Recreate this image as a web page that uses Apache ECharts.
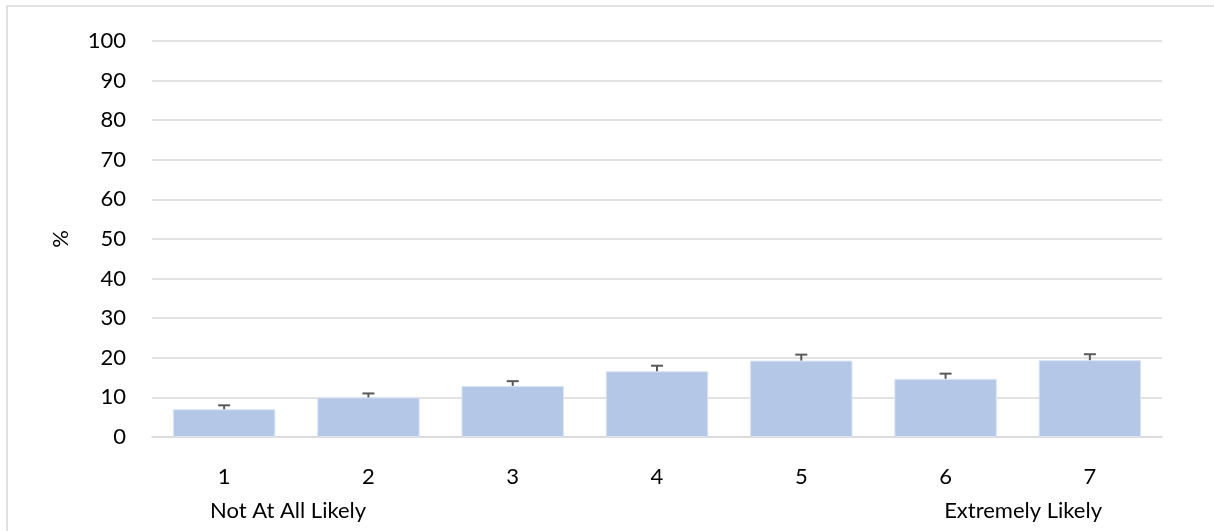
<!DOCTYPE html>
<html><head><meta charset="utf-8">
<script src="https://cdn.jsdelivr.net/npm/echarts@6/dist/echarts.min.js"></script>
<style>html,body{margin:0;padding:0;background:#fff}#c{width:1214px;height:531px}</style>
</head><body><div id="c"></div>
<script>
const categories = ['1','2','3','4','5','6','7'];
const values = [7.0, 10.0, 12.9, 16.6, 19.3, 14.7, 19.4];
const errors = [1.0, 1.0, 1.2, 1.4, 1.5, 1.3, 1.5];
const yTicks = [0,10,20,30,40,50,60,70,80,90,100];
const scaleLabels = ['Not At All Likely','Extremely Likely'];

const font = 'Lato';
const fs = 22;
const chart = echarts.init(document.getElementById('c'));
chart.setOption({
  animation:false,
  grid:{left:152,right:52,top:41,bottom:94},
  xAxis:{type:'category',data:categories,
    axisLine:{lineStyle:{color:'#d9d9d9',width:1.5}},axisTick:{show:false},
    axisLabel:{color:'#000',fontFamily:font,fontSize:fs,margin:29}},
  yAxis:{type:'value',min:yTicks[0],max:yTicks[yTicks.length-1],interval:10,
    name:'%',nameLocation:'middle',nameGap:80,nameRotate:90,
    nameTextStyle:{color:'#000',fontFamily:font,fontSize:fs},
    axisLabel:{color:'#000',fontFamily:font,fontSize:fs,margin:26},
    splitLine:{lineStyle:{color:'#d9d9d9',width:1.5}},axisLine:{show:false},axisTick:{show:false}},
  series:[
    {type:'bar',data:values,barCategoryGap:'29%',
     itemStyle:{color:'#b4c7e7',borderColor:'#dbe4f4',borderWidth:1}},
    {type:'custom',data:values.map((v,i)=>[i,v,v+errors[i]]),z:5,
     renderItem:function(params,api){
       const p0=api.coord([api.value(0),api.value(1)]);
       const p1=api.coord([api.value(0),api.value(2)]);
       const s={stroke:'#595959',lineWidth:2};
       return {type:'group',children:[
         {type:'line',shape:{x1:p0[0],y1:p0[1],x2:p1[0],y2:p1[1]},style:s},
         {type:'line',shape:{x1:p1[0]-6,y1:p1[1],x2:p1[0]+6,y2:p1[1]},style:s}
       ]};
     }}
  ],
  graphic:[
    {type:'rect',shape:{x:7,y:6,width:1400,height:700},style:{fill:'none',stroke:'#d9d9d9',lineWidth:1.5},silent:true},
    {type:'text',left:210,top:500,style:{text:scaleLabels[0],fill:'#000',font:fs+'px '+font}},
    {type:'text',right:112,top:500,style:{text:scaleLabels[1],fill:'#000',font:fs+'px '+font}}
  ]
});
</script></body></html>
